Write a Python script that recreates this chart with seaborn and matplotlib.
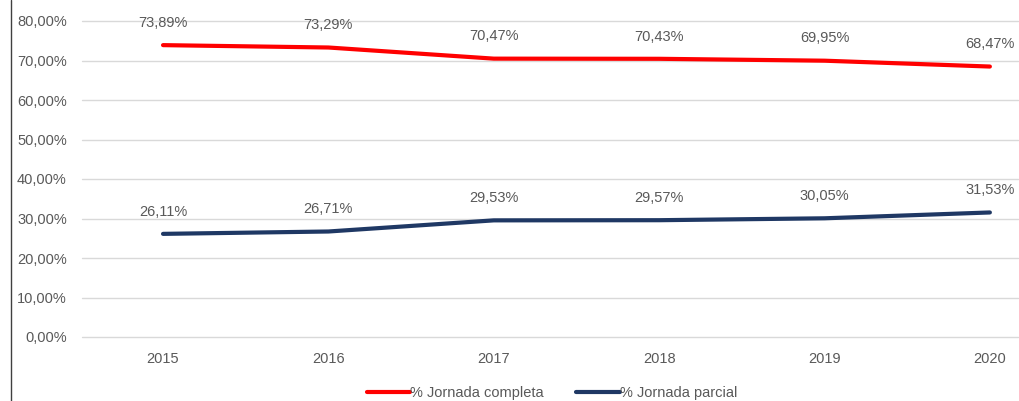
import numpy as np
import pandas as pd
import seaborn as sns
import matplotlib.pyplot as plt
from matplotlib.lines import Line2D

years = ['2015', '2016', '2017', '2018', '2019', '2020']
completa = [73.89, 73.29, 70.47, 70.43, 69.95, 68.47]
parcial = [26.11, 26.71, 29.53, 29.57, 30.05, 31.53]
series_names = ['% Jornada completa', '% Jornada parcial']
colors = ['#FF0000', '#1F3864']

df = pd.DataFrame({
    'year': years * 2,
    'value': completa + parcial,
    'serie': [series_names[0]] * 6 + [series_names[1]] * 6,
})
df['pos'] = df.groupby('serie').cumcount()

sns.set_style('white')
plt.rcParams['font.family'] = ['Liberation Sans', 'DejaVu Sans']

fig = plt.figure(figsize=(10.2, 4.01), dpi=100)
ax = fig.add_axes([82 / 1020, 64 / 401, 936 / 1020, 316 / 401])

sns.lineplot(data=df, x='pos', y='value', hue='serie', palette=colors,
             linewidth=3, ax=ax, legend=False)

# data labels
for name, vals in zip(series_names, [completa, parcial]):
    for i, v in enumerate(vals):
        ax.annotate(f'{v:.2f}%'.replace('.', ','), (i, v), xytext=(0, 16),
                    textcoords='offset points', ha='center', va='center',
                    fontsize=10.5, color='#595959')

ax.set_xlim(-0.49, 5.17)
ax.set_ylim(0, 80)
ax.set_yticks(np.arange(0, 81, 10))
ax.set_yticklabels([f'{t:.2f}%'.replace('.', ',') for t in np.arange(0, 81, 10)])
ax.set_xticks(range(6))
ax.set_xticklabels(years)
ax.yaxis.grid(True, color='#D9D9D9', linewidth=1)
for gl in ax.get_ygridlines():
    gl.set_clip_on(False)
ax.tick_params(axis='y', length=0, pad=11, labelsize=10.5, labelcolor='#595959')
ax.tick_params(axis='x', length=0, pad=11, labelsize=10.5, labelcolor='#595959')
ax.set_xlabel('')
ax.set_ylabel('')
for s in ax.spines.values():
    s.set_visible(False)

handles = [Line2D([], [], color=c, linewidth=3) for c in colors]
fig.legend(handles, series_names, loc='center', bbox_to_anchor=(552 / 1020, 1 - 393 / 401),
           ncol=2, frameon=False, fontsize=10.5, handlelength=3.0, handletextpad=0.0,
           columnspacing=2.2, labelcolor='#595959')

fig.add_artist(Line2D([11 / 1020, 11 / 1020], [0, 1], color='#404040', linewidth=1))

fig.savefig('out.png', dpi=100)
